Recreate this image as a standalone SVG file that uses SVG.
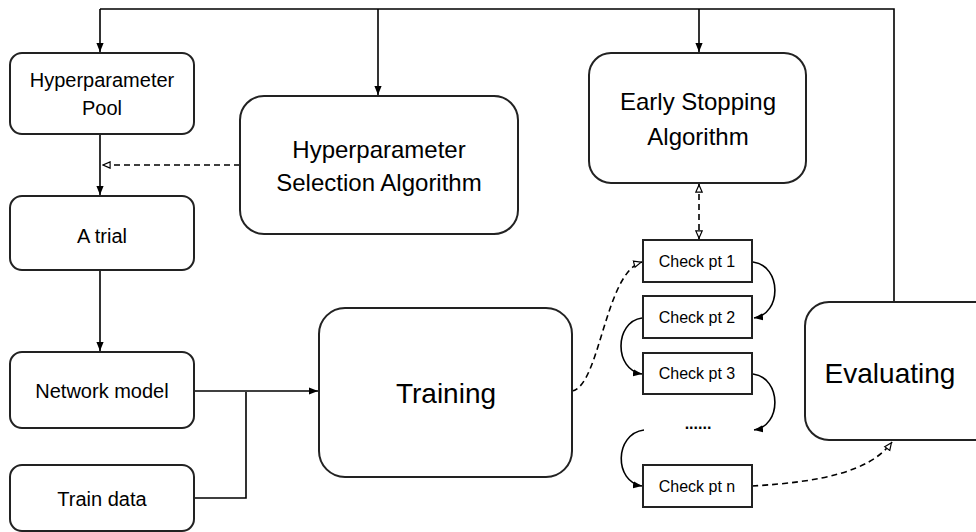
<svg xmlns="http://www.w3.org/2000/svg" width="976" height="532" viewBox="0 0 976 532">
  <defs>
    <marker id="solid" viewBox="0 0 10 10" refX="10" refY="5" markerWidth="9" markerHeight="9" markerUnits="userSpaceOnUse" orient="auto">
      <path d="M0,1 L10,5 L0,9 Z" fill="#000"/>
    </marker>
    <marker id="open" viewBox="0 0 10 10" refX="10" refY="5" markerWidth="9" markerHeight="9" markerUnits="userSpaceOnUse" orient="auto">
      <path d="M1,1.5 L9,5 L1,8.5 Z" fill="#fff" stroke="#000" stroke-width="1.3"/>
    </marker>
    <marker id="openStart" viewBox="0 0 10 10" refX="0" refY="5" markerWidth="9" markerHeight="9" markerUnits="userSpaceOnUse" orient="auto">
      <path d="M9,1.5 L1,5 L9,8.5 Z" fill="#fff" stroke="#000" stroke-width="1.3"/>
    </marker>
  </defs>
  <style>
    .box { fill: #fff; stroke: #222; stroke-width: 2; }
    .txt { font-family: "Liberation Sans", Arial, sans-serif; fill: #000; text-anchor: middle; }
    .s { font-size: 20px; }
    .m { font-size: 24px; }
    .l { font-size: 28px; }
    .c { font-size: 16px; }
    .ln { fill: none; stroke: #000; stroke-width: 1.6; }
    .dash { stroke-dasharray: 6 4; }
  </style>
  <rect width="976" height="532" fill="#fff"/>

  <!-- connectors -->
  <g id="connectors">
    <!-- feedback bus from Evaluating across the top -->
    <path class="ln" d="M894,302 L894,9 L100,9"/>
    <path class="ln" d="M100,9 L100,52" marker-end="url(#solid)"/>
    <path class="ln" d="M378,9 L378,95" marker-end="url(#solid)"/>
    <path class="ln" d="M699,9 L699,52" marker-end="url(#solid)"/>
    <!-- pool -> trial -> network model -->
    <path class="ln" d="M100,134 L100,195" marker-end="url(#solid)"/>
    <path class="ln" d="M100,270 L100,351" marker-end="url(#solid)"/>
    <!-- selection algorithm -> pool/trial link -->
    <path class="ln dash" d="M240,165 L102,165" marker-end="url(#open)"/>
    <!-- network model + train data -> training -->
    <path class="ln" d="M194,391 L318,391" marker-end="url(#solid)"/>
    <path class="ln" d="M194,498 L246,498 L246,392"/>
    <!-- training -> check pt 1 -->
    <path class="ln dash" d="M572,391 C600,386 605,272 642,262" marker-end="url(#open)"/>
    <!-- early stopping <-> check pt 1 -->
    <path class="ln dash" d="M699,184 L699,239" marker-start="url(#openStart)" marker-end="url(#open)"/>
    <!-- checkpoint chain -->
    <path class="ln" d="M753,262 C782,266 782,314 754,318" marker-end="url(#solid)"/>
    <path class="ln" d="M642,318 C614,322 614,370 642,374" marker-end="url(#solid)"/>
    <path class="ln" d="M753,374 C782,378 782,426 754,430" marker-end="url(#solid)"/>
    <path class="ln" d="M644,430 C614,434 614,482 642,486" marker-end="url(#solid)"/>
    <!-- check pt n -> evaluating -->
    <path class="ln dash" d="M752,486 C820,482 870,472 892,442" marker-end="url(#open)"/>
  </g>

  <g id="hyperparameter-pool">
    <rect class="box" x="10" y="53" width="184" height="81" rx="12"/>
    <text class="txt s" x="102" y="87">Hyperparameter</text>
    <text class="txt s" x="102" y="115">Pool</text>
  </g>

  <g id="selection-algorithm">
    <rect class="box" x="240" y="96" width="278" height="138" rx="24"/>
    <text class="txt m" x="379" y="158">Hyperparameter</text>
    <text class="txt m" x="379" y="191">Selection Algorithm</text>
  </g>

  <g id="early-stopping">
    <rect class="box" x="589" y="53" width="217" height="130" rx="22"/>
    <text class="txt m" x="698" y="110">Early Stopping</text>
    <text class="txt m" x="698" y="145">Algorithm</text>
  </g>

  <g id="a-trial">
    <rect class="box" x="10" y="196" width="184" height="74" rx="12"/>
    <text class="txt s" x="102" y="243">A trial</text>
  </g>

  <g id="network-model">
    <rect class="box" x="10" y="352" width="184" height="76" rx="12"/>
    <text class="txt s" x="102" y="398">Network model</text>
  </g>

  <g id="train-data">
    <rect class="box" x="10" y="465" width="184" height="66" rx="12"/>
    <text class="txt s" x="102" y="506">Train data</text>
  </g>

  <g id="training">
    <rect class="box" x="319" y="308" width="253" height="169" rx="26"/>
    <text class="txt l" x="446" y="403">Training</text>
  </g>

  <g id="check-pt-1">
    <rect class="box" x="643" y="240" width="109" height="42"/>
    <text class="txt c" x="697" y="267">Check pt 1</text>
  </g>
  <g id="check-pt-2">
    <rect class="box" x="643" y="296" width="109" height="42"/>
    <text class="txt c" x="697" y="323">Check pt 2</text>
  </g>
  <g id="check-pt-3">
    <rect class="box" x="643" y="353" width="109" height="41"/>
    <text class="txt c" x="697" y="379">Check pt 3</text>
  </g>
  <g id="ellipsis">
    <text class="txt c" x="698" y="429" font-weight="bold">......</text>
  </g>
  <g id="check-pt-n">
    <rect class="box" x="643" y="465" width="109" height="42"/>
    <text class="txt c" x="697" y="492">Check pt n</text>
  </g>

  <g id="evaluating">
    <rect class="box" x="805" y="302" width="196" height="138" rx="24"/>
    <text class="txt l" x="890" y="383">Evaluating</text>
  </g>
</svg>
